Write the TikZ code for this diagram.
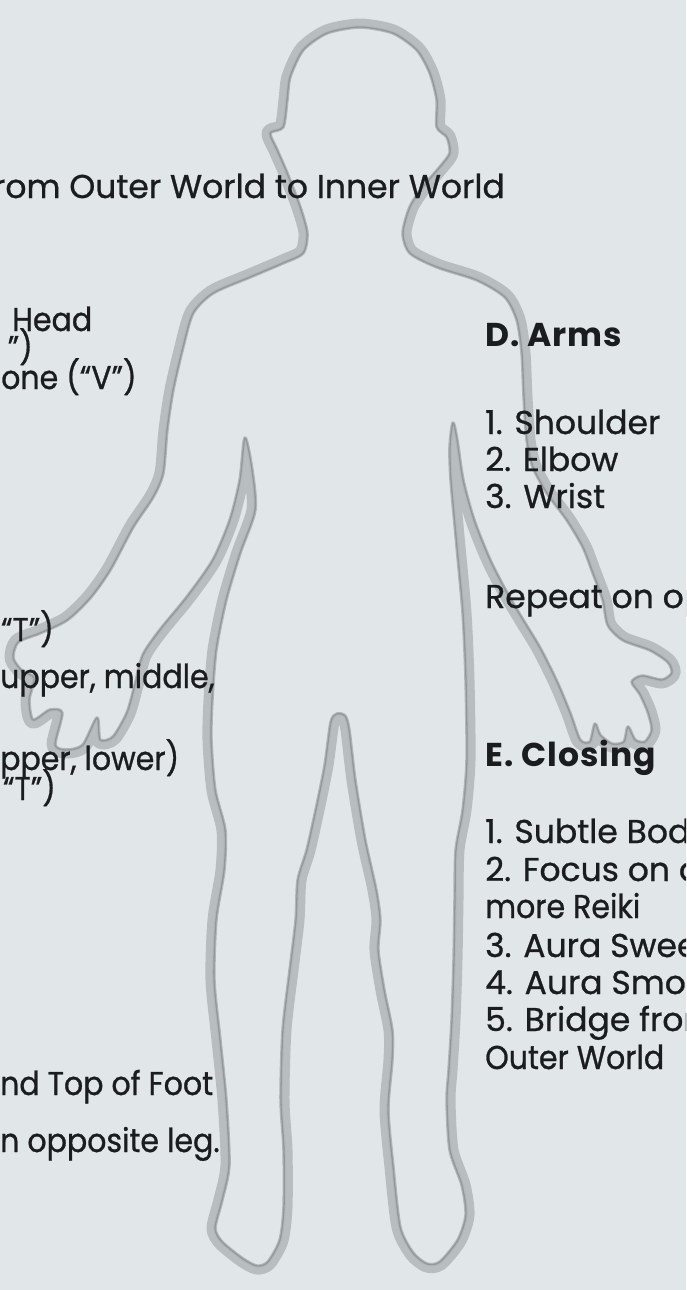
\documentclass[tikz,border=0pt]{standalone}
\usepackage{fontspec}
\setmainfont{Poppins}[FakeBold=0.8]
\newfontfamily\headfont{Poppins}[LetterSpace=3]
\newfontfamily\narrowfont{Poppins}[FakeBold=0.8, FakeStretch=0.91]
\definecolor{paper}{RGB}{225,230,232}
\definecolor{halo}{RGB}{184,189,191}
\definecolor{rim}{RGB}{148,152,154}
\definecolor{ink}{RGB}{26,28,30}

\begin{document}
\begin{tikzpicture}[x=1pt,y=-1pt,
  lbl/.style={font=\fontsize{33}{33}\selectfont, text=ink, inner sep=0pt},
  nlbl/.style={font=\narrowfont\fontsize{33}{33}\selectfont, text=ink, inner sep=0pt},
  hd/.style={font=\headfont\bfseries\fontsize{33}{33}\selectfont, text=ink, inner sep=0pt}]
\clip (0,0) rectangle (686,1290);
\fill[paper] (0,0) rectangle (686,1290);

% body silhouette, traced clockwise from the crown
\path[save path=\bodypath] plot[smooth cycle, tension=0.45] coordinates {
 (360,27) (393,33) (417,50) (430,73) (437,100) (437,127) (447,137) (450,153)
 (440,167) (423,187) (410,207) (403,233) (410,253) (437,267) (477,280) (505,297)
 (517,320) (522,353) (524,397) (527,440) (533,467) (547,493) (567,520) (583,547)
 (593,573) (603,600) (608,625) (623,640) (650,650) (668,662) (672,673) (662,680)
 (642,676) (632,682) (640,694) (648,712) (652,730) (645,742) (635,740) (628,727)
 (624,742) (612,744) (600,735) (595,724) (590,742) (580,740) (570,713) (557,682)
 (540,648) (523,620) (507,593) (490,560) (474,520) (463,480) (457,440) (453,423)
 (450,447) (451,480) (457,547) (463,613) (466,680) (467,760) (463,810) (456,850)
 (455,900) (454,960) (452,1020) (449,1070) (447,1100) (450,1150) (462,1185)
 (466,1215) (458,1240) (440,1262) (427,1264) (413,1253) (400,1227) (393,1167)
 (388,1110) (392,1060) (392,1030) (384,990) (378,950) (380,920) (376,890)
 (365,840) (355,780) (349,730) (345,716) (337,714) (331,722)
 (325,765) (317,805) (307,850) (298,880) (296,920) (290,970) (283,1030)
 (281,1100) (284,1150) (284,1207) (280,1240) (268,1262) (257,1266) (243,1259)
 (222,1242) (215,1228) (222,1200) (229,1165) (226,1100)
 (220,1040) (214,980) (216,920) (224,870) (225,830) (215,790) (211,740)
 (212,700) (216,650) (226,600) (240,553) (255,510) (252,470) (245,438)
 (240,480) (230,520) (213,560) (187,597) (160,630) (143,655) (135,685)
 (127,713) (113,737) (100,740) (97,718) (83,745) (67,750) (55,745) (62,713)
 (50,710) (33,720) (29,700) (34,678) (22,671) (13,658) (18,642) (40,633)
 (67,620) (90,598) (110,570) (133,527) (153,497) (163,473) (167,430) (173,390)
 (183,347) (193,313) (213,293) (250,277) (283,263) (303,253) (307,233)
 (300,207) (287,173) (277,150) (270,133) (283,127) (287,100) (290,77)
 (303,50) (327,33)};
\draw[use path=\bodypath, halo, line width=17, line join=round];
\fill[use path=\bodypath, paper];
\draw[use path=\bodypath, halo!80!rim, line width=3.5, line join=round];
\draw[use path=\bodypath, rim, line width=1.3, line join=round];

% left column
\node[lbl,  anchor=base east] (l0) at (505,198) {rom Outer World to Inner World};
\node[nlbl, anchor=base west] (l1) at (12,331) {Head};
\node[nlbl, anchor=base east] (l2) at (33,359) {”)};
\node[nlbl, anchor=base west] (l3) at (1,389) {one (“V”)};
\node[nlbl, anchor=base east] (l4) at (54,641) {“T”)};
\node[nlbl, anchor=base west] (l5) at (0,688) {upper, middle,};
\node[nlbl, anchor=base west] (l6) at (0,770) {pper, lower)};
\node[nlbl, anchor=base east] (l7) at (56,800) {“T”)};
\node[nlbl, anchor=base west] (l8) at (0,1095) {nd Top of Foot};
\node[nlbl, anchor=base west] (l9) at (0,1152) {n opposite leg.};

% right column
\node[hd,  anchor=base west] (r0) at (485,346) {D. Arms};
\node[lbl, anchor=base west] (r1) at (485,434) {1. Shoulder};
\node[lbl, anchor=base west] (r2) at (485,471) {2. Elbow};
\node[lbl, anchor=base west] (r3) at (485,508) {3. Wrist};
\node[lbl, anchor=base west] (r4) at (485,608) {Repeat on opp};
\node[hd,  anchor=base west] (r5) at (485,766) {E. Closing};
\node[lbl, anchor=base west] (r6) at (485,843) {1. Subtle Body};
\node[lbl, anchor=base west] (r7) at (485,881) {2. Focus on an};
\node[nlbl, anchor=base west] (r8) at (485,918) {more Reiki};
\node[lbl, anchor=base west] (r9) at (485,957) {3. Aura Sweep};
\node[lbl, anchor=base west] (r10) at (485,994) {4. Aura Smooth};
\node[lbl, anchor=base west] (r11) at (485,1031) {5. Bridge from};
\node[nlbl, anchor=base west] (r12) at (485,1069) {Outer World};
\end{tikzpicture}
\end{document}
